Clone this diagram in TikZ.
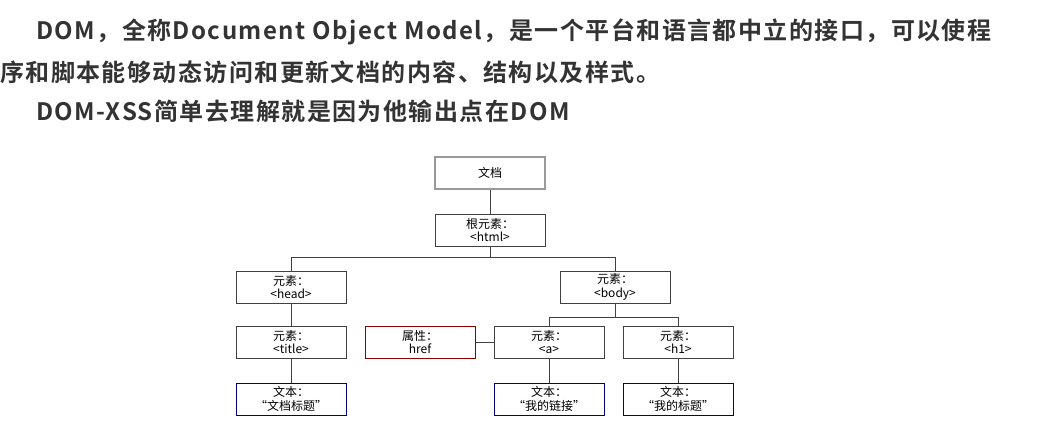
\documentclass[tikz,border=0pt]{standalone}
\usepackage{fontspec}
\setmainfont{Noto Sans CJK SC}
\newfontfamily\cjkbold[LetterSpace=6]{Noto Sans CJK SC Bold}
\usetikzlibrary{positioning}
\tikzset{
  box/.style={rectangle, draw=black!75, line width=1pt, minimum width=110pt, minimum height=32pt, inner sep=0pt, align=center, font=\fontsize{12}{13.5}\selectfont},
  rootbox/.style={box, draw=black!40, line width=1.5pt},
  attrbox/.style={box, draw=red!55!black},
  textbox/.style={box, draw=blue!50!black},
  link/.style={draw=black!75, line width=1pt},
  headline/.style={anchor=base west, inner sep=0pt, font=\cjkbold\fontsize{24}{28}\selectfont, text=black!80}
}
\begin{document}
\begin{tikzpicture}[x=1pt, y=-1pt]
    \useasboundingbox (0,0) rectangle (1037,421);
    % Header text
    \node (l1) [headline] at (36,39) {DOM，全称Document Object Model，是一个平台和语言都中立的接口，可以使程};
    \node (l2) [headline] at (0,81) {序和脚本能够动态访问和更新文档的内容、结构以及样式。};
    \node (l3) [headline] at (36,120) {DOM-XSS简单去理解就是因为他输出点在DOM};
    % Nodes
    \node (doc) [rootbox] at (490,173) {文档};
    \node (html) [box] at (490,230) {根元素：\\<html>};
    \node (head) [box] at (291,287) {元素：\\<head>};
    \node (body) [box] at (615,287) {元素：\\<body>};
    \node (title) [box] at (291,342) {元素：\\<title>};
    \node (href) [attrbox] at (420,342) {属性：\\href};
    \node (a) [box] at (549,342) {元素：\\<a>};
    \node (h1) [box] at (678,342) {元素：\\<h1>};
    \node (ttext) [textbox] at (291,399) {文本：\\“文档标题”};
    \node (atext) [textbox] at (549,399) {文本：\\“我的链接”};
    \node (htext) [textbox] at (678,399) {文本：\\“我的标题”};
    % Links
    \draw[link] (doc) -- (html);
    \draw[link] (html.south) |- (490,257) -| (head.north);
    \draw[link] (html.south) |- (490,257) -| (body.north);
    \draw[link] (body.south) |- (615,317) -| (a.north);
    \draw[link] (body.south) |- (615,317) -| (h1.north);
    \draw[link] (head) -- (title);
    \draw[link] (title) -- (ttext);
    \draw[link] (a) -- (atext);
    \draw[link] (h1) -- (htext);
    \draw[link] (href) -- (a);
\end{tikzpicture}
\end{document}
